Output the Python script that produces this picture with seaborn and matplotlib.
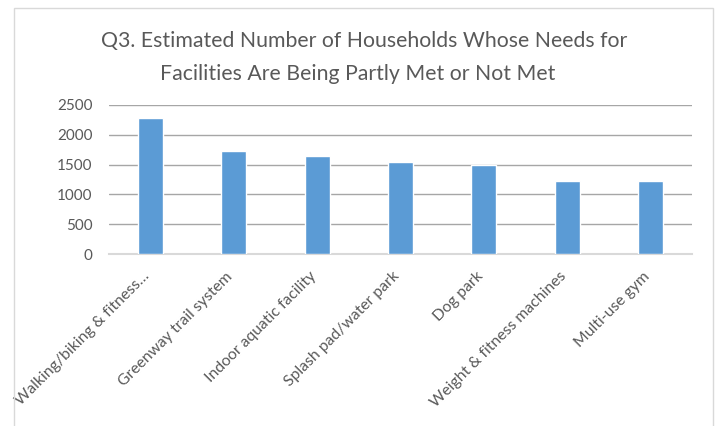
import matplotlib
matplotlib.use("Agg")
import matplotlib.pyplot as plt
import matplotlib.transforms as mtransforms
import seaborn as sns
import pandas as pd
from matplotlib.patches import Rectangle

categories = ["Walking/biking & fitness…", "Greenway trail system", "Indoor aquatic facility",
              "Splash pad/water park", "Dog park", "Weight & fitness machines", "Multi-use gym"]
values = [2290, 1720, 1640, 1545, 1490, 1230, 1230]
yticks = [0, 500, 1000, 1500, 2000, 2500]
title_lines = ["Q3. Estimated Number of Households Whose Needs for",
               "Facilities Are Being Partly Met or Not Met"]

sns.set_theme(style="white")
plt.rcParams['font.family'] = ['Lato', 'DejaVu Sans']

W, H = 717, 426
df = pd.DataFrame({"cat": categories, "val": values})
fig = plt.figure(figsize=(W/100, H/100), dpi=100)
fig.patches.append(Rectangle((14/W, -0.01), (713-14)/W, 1 - 8/H + 0.01,
                             transform=fig.transFigure, fill=False, edgecolor="#d9d9d9", lw=1))
ax = fig.add_axes([109/W, 1-254/H, (692-109)/W, (254-105)/H])
sns.barplot(data=df, x="cat", y="val", color="#5B9BD5", width=0.3, saturation=1, ax=ax, zorder=3)
ax.set_ylim(0, 2500)
ax.set_xlim(-0.5, len(categories)-0.5)
ax.set_yticks(yticks)
ax.yaxis.grid(True, color="#a6a6a6", lw=1, zorder=0)
ax.set_axisbelow(True)
for s in ["top", "right", "left"]:
    ax.spines[s].set_visible(False)
ax.spines["bottom"].set_color("#d9d9d9")
ax.spines["bottom"].set_linewidth(1.5)
ax.set_xlabel("")
ax.set_ylabel("")
ax.tick_params(axis="y", length=0, labelsize=11, labelcolor="#595959", pad=12)
ax.tick_params(axis="x", length=0, labelsize=11.3, labelcolor="#595959", pad=11)
offset = mtransforms.ScaledTranslation(-8/100, 0, fig.dpi_scale_trans)
for lab in ax.get_xticklabels():
    lab.set_rotation(45)
    lab.set_ha("right")
    lab.set_rotation_mode("anchor")
    lab.set_transform(lab.get_transform() + offset)
fig.text(364/W, 1-47/H, title_lines[0], ha="center", va="baseline", fontsize=15.3, color="#595959")
fig.text(358/W, 1-80/H, title_lines[1], ha="center", va="baseline", fontsize=15.3, color="#595959")
fig.savefig("out.png", dpi=100)
